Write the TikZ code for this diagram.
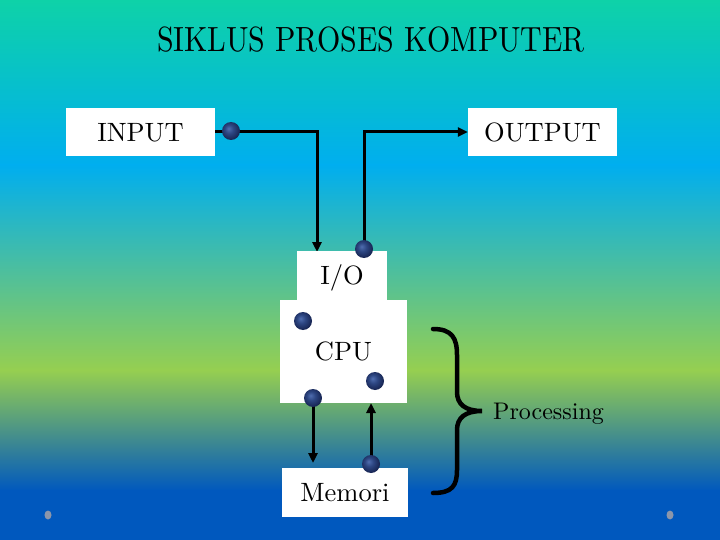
\documentclass[tikz,border=0pt]{standalone}
\usepackage{fontspec}
\setmainfont{lmroman10-regular.otf}
\usetikzlibrary{arrows.meta}
\definecolor{bgteal}{RGB}{14,210,168}
\definecolor{bgblue}{RGB}{0,174,239}
\definecolor{bggreen}{RGB}{150,207,80}
\definecolor{bgdeep}{RGB}{0,88,190}
\definecolor{ballhi}{RGB}{80,110,175}
\definecolor{ballmid}{RGB}{45,70,130}
\definecolor{balldk}{RGB}{22,35,80}
\definecolor{greydot}{RGB}{140,150,170}
\pgfdeclareradialshading{myball}{\pgfpoint{-7bp}{7bp}}{color(0bp)=(ballhi); color(12bp)=(ballmid); color(28bp)=(balldk); color(50bp)=(balldk)}
\pgfdeclarelayer{back}
\pgfdeclarelayer{lines}
\pgfsetlayers{back,lines,main}
\begin{document}
\begin{tikzpicture}[x=1pt,y=-1pt,
  box/.style={fill=white, inner sep=0pt, text height=18.1pt, text depth=0pt, font=\fontsize{26.5}{30}\selectfont},
  conn/.style={line width=3pt, -{Triangle[length=10pt,width=9pt]}},
  ballnode/.style={circle, minimum size=18pt, inner sep=0pt, shading=myball},
  brace/.style={line width=4.5pt, line cap=round},
]
\useasboundingbox (0,0) rectangle (720,540);
\begin{pgfonlayer}{back}
\shade[top color=bgteal,bottom color=bgblue] (0,0) rectangle (720,166);
\shade[top color=bgblue,bottom color=bggreen] (0,165) rectangle (720,371);
\shade[top color=bggreen,bottom color=bgdeep] (0,370) rectangle (720,491);
\fill[bgdeep] (0,490) rectangle (720,540);
\fill[greydot] (48,515) ellipse (3.5pt and 4.5pt);
\fill[greydot] (670,515) ellipse (3.5pt and 4.5pt);
\end{pgfonlayer}

\node[inner sep=0pt, font=\fontsize{35}{40}\selectfont, text height=23.9pt, text depth=0pt] (title) at (371,40) {\scalebox{0.855}[1]{SIKLUS PROSES KOMPUTER}};

\node[box, minimum width=149pt, minimum height=48pt] (inp) at (140.5,132) {INPUT};
\node[box, minimum width=149pt, minimum height=48pt] (out) at (542.5,132) {OUTPUT};
\node[box, minimum width=127pt, minimum height=103pt] (cpu) at (343.5,351.5) {CPU};
\node[box, minimum width=90pt, minimum height=49pt] (io) at (342,275.5) {I/O};
\node[box, minimum width=126pt, minimum height=49pt] (mem) at (345,492.5) {Memori};

\coordinate (ioin) at (317,252);
\coordinate (memin) at (313,463);
\coordinate (cpuin) at (371,403);

\node[ballnode] (d1) at (231,131) {};
\node[ballnode] (d2) at (364,249) {};
\node[ballnode] (d3) at (303,321) {};
\node[ballnode] (d4) at (375,381) {};
\node[ballnode] (d5) at (313,398) {};
\node[ballnode] (d6) at (371,464) {};

\begin{pgfonlayer}{lines}
\draw[conn] (inp.east) -| (ioin);
\draw[conn] (d2.center) |- (out.west);
\draw[conn] (d5.center) -- (memin);
\draw[conn] (d6.center) -- (cpuin);
\end{pgfonlayer}

\draw[brace] (433,329) .. controls (452,329) and (457,338) .. (457,355) -- (457,392)
  .. controls (457,404) and (465,411) .. (482,411)
  .. controls (465,411) and (457,418) .. (457,430) -- (457,470)
  .. controls (457,486) and (452,493) .. (433,493);

\node[anchor=base west, inner sep=0pt, font=\fontsize{24}{28}\selectfont] (proc) at (493,419) {Processing};
\end{tikzpicture}
\end{document}
